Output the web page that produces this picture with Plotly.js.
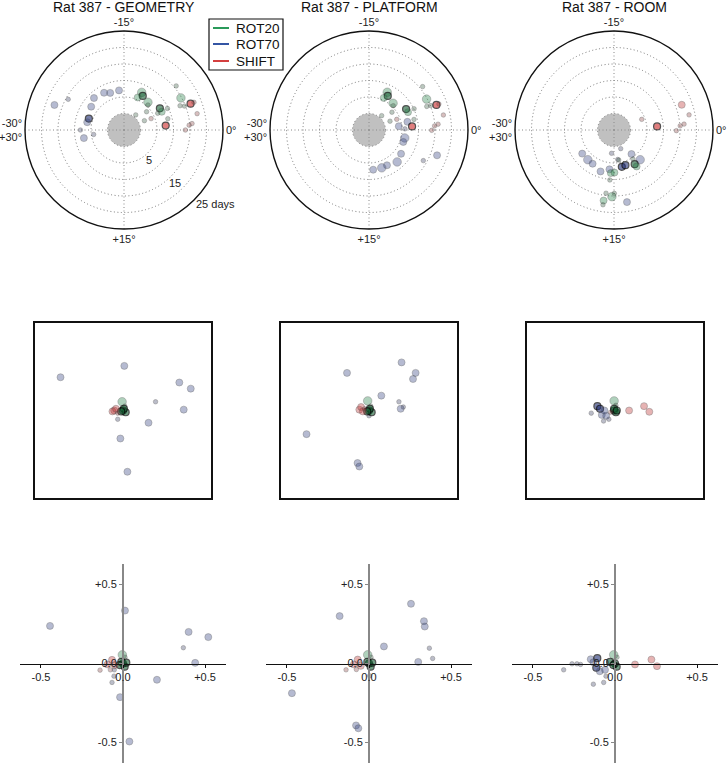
<!DOCTYPE html>
<html><head><meta charset="utf-8">
<script src="https://cdn.plot.ly/plotly-3.0.1.min.js"></script>
<style>html,body{margin:0;padding:0;background:#fff}</style>
</head><body><div id="chart" style="width:728px;height:763px"></div>
<script>
// ---------- DATA ----------
const panelNames = ['GEOMETRY', 'PLATFORM', 'ROOM'];
const seriesNames = ['ROT20', 'ROT70', 'SHIFT'];
const angleTickText = ['0°', '+15°', '-30°<br>+30°', '-15°'];   // at 0, 90, 180, 270 (clockwise)
const radialTickText = ['5', '15', '25 days'];
const axisTickText = ['-0.5', '0.0', '+0.5'];

// Polar: [phase offset (deg), days, weight(1-3), significant(0/1)]
const geoRot20Polar = [[-10.8,7.6,3,0],[-10.2,6.8,2,1],[-11.2,5.7,2,0],[-8.2,6.1,3,0],[-5.2,7.7,2,1],[-4.3,7.7,2,0],[-4.9,14.8,3,0],[-3.9,13.5,1,0],[-3.6,14.7,1,0],[-6.7,15.7,1,0],[-4.4,9.7,1,0],[-4.4,6.4,1,0],[-6.5,3.8,1,0],[-4.1,1.8,1,0],[-8.7,0.8,1,0],[-2.4,8.7,1,0],[-7.7,5.5,1,0]];
const geoRot70Polar = [[-26.7,17.4,2,0],[-25.2,14.3,1,0],[-22.2,8.3,2,0],[-19.7,7.8,2,0],[-18.4,7.0,2,0],[-16.2,7.1,2,0],[-24.1,7.2,2,0],[-27.0,6.2,2,1],[-28.0,6.4,2,0],[-30,8.2,1,0],[28.1,7.4,2,0],[28.6,4.3,1,0]];
const geoShiftPolar = [[-1.0,7.7,2,1],[-3.6,16.7,2,1],[-3.6,17.8,1,0],[-2.1,17.7,1,0],[-0.9,15.7,1,0],[-0.7,14.8,1,0],[0.0,13.6,1,0],[-3.8,3.9,1,0]];

const platRot20Polar = [[-10.7,7.7,3,0],[-10.2,6.8,2,1],[-10.9,5.7,2,0],[-8.0,5.9,3,0],[-4.9,7.9,2,1],[-4.1,8.0,2,0],[-4.7,14.8,3,0],[-3.7,13.9,1,0],[-3.6,15.1,1,0],[-6.5,15.9,1,0],[-4.2,10.1,1,0],[-6.3,3.8,1,0],[-3.8,1.9,1,0],[-8.1,0.8,1,0],[-2.2,9.0,1,0],[-7.5,5.4,1,0]];
const platRot70Polar = [[2.1,6.1,3,0],[3.2,6.0,2,0],[-2.0,6.9,2,0],[-1.2,4.1,2,0],[-0.3,5.9,1,0],[6.1,7.1,2,0],[8.1,7.9,3,0],[10.5,7.0,2,0],[11.9,7.1,3,0],[14.0,7.1,2,0],[3.4,17.0,2,0],[4.9,13.9,1,0]];
const platShiftPolar = [[-0.8,8.1,2,1],[-3.4,16.8,2,1],[-3.4,17.6,1,0],[-1.9,18.0,1,0],[-0.8,16.0,1,0],[-0.6,14.9,1,0],[0.05,14.0,1,0],[-3.5,4.0,1,0]];

const roomRot20Polar = [[9.8,7.1,2,1],[9.7,8.0,2,0],[15.7,8.1,2,0],[14.9,7.9,2,0],[15.3,15.2,3,0],[14.95,14.2,1,0],[16.2,14.3,1,0],[16.4,16.6,2,0],[16.4,17.9,1,0],[9.5,5.5,1,0],[13.5,4.2,1,0],[15.8,10.2,1,0]];
const roomRot70Polar = [[23.9,7.0,2,0],[21.9,7.0,3,0],[20.4,7.1,2,0],[18.0,8.2,2,0],[16.1,7.0,2,0],[13.0,6.4,2,1],[12.0,6.2,2,1],[9.0,4.0,2,0],[8.1,7.0,3,0],[13.3,17.2,2,0],[16.0,2.1,1,0],[11.7,1.0,1,0],[13.8,4.0,1,0]];
const roomShiftPolar = [[-3.4,16.9,2,0],[-1.9,18.2,1,0],[-0.8,16.3,1,0],[-0.6,15.1,1,0],[0.1,13.9,1,0],[-0.8,8.1,2,1],[-3.5,4.0,1,0]];

// Middle row (normalised map): [x, y, weight, significant]
const geoRot20Map = [[-0.01,0.10,3,0],[0.02,0.05,1,0],[0.0,0.0,2,1],[0.03,-0.02,2,1],[0.01,0.02,2,1],[-0.02,-0.01,2,1]];
const geoRot70Map = [[-0.71,0.38,2,0],[0.015,0.51,2,0],[0.64,0.32,2,0],[0.77,0.25,2,0],[0.37,0.10,1,0],[0.69,0.01,2,0],[0.29,-0.14,2,0],[-0.03,-0.32,2,0],[0.05,-0.70,2,0],[-0.06,-0.10,1,0]];
const geoShiftMap = [[-0.10,0.0,2,0],[-0.12,-0.01,2,0],[-0.08,0.02,2,0],[-0.06,-0.03,1,0]];

const platRot20Map = [[-0.015,0.11,3,0],[0.02,0.05,1,0],[0.0,0.0,2,1],[0.03,-0.02,2,1],[0.01,0.02,2,1],[-0.02,-0.01,2,1]];
const platRot70Map = [[-0.25,0.43,2,0],[0.37,0.55,2,0],[0.53,0.43,2,0],[0.50,0.36,2,0],[0.14,0.17,2,0],[0.34,0.10,1,0],[0.36,0.02,2,0],[0.39,0.04,1,0],[-0.71,-0.27,2,0],[-0.13,-0.60,2,0],[-0.11,-0.64,2,0],[0.0,-0.06,1,0]];
const platShiftMap = [[-0.11,0.01,2,0],[-0.09,0.04,2,0],[-0.07,-0.01,2,0],[-0.05,0.02,1,0]];

const roomRot20Map = [[-0.01,0.11,3,0],[0.01,0.06,1,0],[-0.01,0.0,2,1],[0.01,-0.02,2,1],[-0.01,0.02,2,1],[0.02,0.0,2,1]];
const roomRot70Map = [[-0.20,0.05,2,1],[-0.17,0.02,2,1],[-0.15,-0.05,2,0],[-0.13,-0.12,1,0],[-0.07,-0.10,1,0],[-0.27,-0.03,1,0],[-0.10,-0.06,2,0],[-0.12,0.0,2,0]];
const roomShiftMap = [[0.16,0.0,2,0],[0.33,0.05,2,0],[0.39,-0.015,2,0],[-0.05,-0.02,1,0]];

// Bottom row (vector components): [x, y, weight, significant]
const geoRot20Vec = [[-0.004,0.055,3,0],[0.012,0.04,1,0],[0.0,0.0,2,1],[0.01,-0.02,2,1],[-0.01,0.01,2,1],[0.02,0.005,2,1],[-0.02,-0.01,2,1]];
const geoRot70Vec = [[-0.445,0.238,2,0],[0.012,0.335,2,0],[0.40,0.20,2,0],[0.52,0.167,2,0],[0.368,0.10,1,0],[0.44,0.004,2,0],[0.207,-0.103,2,0],[-0.018,-0.213,2,0],[0.039,-0.494,2,0],[-0.055,-0.08,1,0],[-0.067,-0.12,1,0],[-0.053,-0.04,1,0]];
const geoShiftVec = [[-0.067,0.023,2,0],[-0.095,-0.006,2,0],[-0.14,-0.042,1,0],[-0.077,-0.04,1,0],[-0.05,-0.01,2,0]];

const platRot20Vec = [[-0.008,0.055,3,0],[0.012,0.04,1,0],[0.0,0.0,2,1],[0.01,-0.02,2,1],[-0.01,0.01,2,1],[0.02,0.005,2,1]];
const platRot70Vec = [[-0.179,0.30,2,0],[0.256,0.378,2,0],[0.335,0.268,2,0],[0.34,0.234,2,0],[0.091,0.108,2,0],[0.368,0.097,1,0],[0.388,0.032,1,0],[0.30,0.01,2,0],[-0.47,-0.188,2,0],[-0.079,-0.392,2,0],[-0.065,-0.41,2,0],[0.004,-0.078,1,0]];
const platShiftVec = [[-0.069,0.025,2,0],[-0.093,-0.006,2,0],[-0.14,-0.04,1,0],[-0.077,-0.038,1,0],[-0.05,-0.015,2,0]];

const roomRot20Vec = [[-0.008,0.055,3,0],[0.012,0.04,1,0],[-0.03,0.01,2,1],[0.0,0.0,2,1],[0.01,-0.02,2,1],[-0.01,-0.01,2,1]];
const roomRot70Vec = [[-0.148,0.027,2,0],[-0.108,0.034,2,1],[-0.132,0.008,2,0],[-0.114,-0.027,2,1],[-0.093,-0.049,2,0],[-0.061,-0.04,2,0],[-0.055,-0.08,1,0],[-0.132,-0.131,1,0],[-0.069,-0.12,1,0],[-0.313,-0.04,1,0],[-0.262,-0.002,1,0],[-0.232,-0.002,1,0],[-0.21,-0.006,1,0]];
const roomShiftVec = [[0.122,-0.006,2,0],[0.222,0.025,2,0],[0.256,-0.017,2,0]];

// ---------- STYLE / LAYOUT ----------
const W = 728, H = 763;
const FONT = 'Liberation Sans, Arial, Helvetica, sans-serif';
const LEGEND_COLORS = ['#2a9a5a', '#3455a4', '#d43f3f'];
const FILL = ['rgba(30,125,65,0.5)', 'rgba(45,61,125,0.5)', 'rgba(185,40,40,0.5)'];
const FILL_SMALL = ['rgba(40,80,50,0.45)', 'rgba(40,45,85,0.45)', 'rgba(130,50,50,0.45)'];
const FILL_SIG = ['rgba(20,95,50,0.85)', 'rgba(30,45,115,0.85)', 'rgba(205,40,40,0.85)'];
const SIZE = {1: 4.5, 2: 7, 3: 8.5};
const GRID_DASH = '1px,2.5px';

const polarPts = [
  [geoRot20Polar, geoRot70Polar, geoShiftPolar],
  [platRot20Polar, platRot70Polar, platShiftPolar],
  [roomRot20Polar, roomRot70Polar, roomShiftPolar]];
const mapPts = [
  [geoRot20Map, geoRot70Map, geoShiftMap],
  [platRot20Map, platRot70Map, platShiftMap],
  [roomRot20Map, roomRot70Map, roomShiftMap]];
const vecPts = [
  [geoRot20Vec, geoRot70Vec, geoShiftVec],
  [platRot20Vec, platRot70Vec, platShiftVec],
  [roomRot20Vec, roomRot70Vec, roomShiftVec]];

function marker(pts, si) {
  return {
    size: pts.map(p => SIZE[p[2]]),
    color: pts.map(p => p[3] ? FILL_SIG[si] : (p[2] === 1 ? FILL_SMALL[si] : FILL[si])),
    line: {
      color: pts.map(p => p[3] ? 'rgba(0,0,0,0.95)' : 'rgba(70,70,70,0.55)'),
      width: pts.map(p => p[3] ? 1.2 : 0.8)
    }
  };
}

const polarCX = [124, 369, 614], polarCY = 130, polarR = 99;
const mapX = [[35, 211], [281, 457], [527, 703]], mapY = [323, 498];
const vecX = [[20, 226], [266, 472], [512, 718]], vecY = [564, 763];
const vecXRange = [-0.628, 0.628], vecYRange = [-0.63, 0.63];

const traces = [];
const layout = {
  width: W, height: H, margin: {l: 0, r: 0, t: 0, b: 0},
  paper_bgcolor: 'white', plot_bgcolor: 'white', showlegend: false,
  font: {family: FONT, color: '#222'},
  annotations: [], shapes: []
};
const order = [1, 0, 2]; // draw ROT70, ROT20, SHIFT

for (let k = 0; k < 3; k++) {
  const pid = k === 0 ? 'polar' : 'polar' + (k + 1);
  const cx = polarCX[k];
  layout[pid] = {
    domain: {x: [(cx - polarR) / W, (cx + polarR) / W], y: [1 - (polarCY + polarR) / H, 1 - (polarCY - polarR) / H]},
    bgcolor: 'white',
    angularaxis: {
      rotation: 0, direction: 'clockwise', tickmode: 'array', tickvals: [0, 90, 180, 270], ticktext: angleTickText,
      showgrid: true, gridcolor: '#888', griddash: GRID_DASH, gridwidth: 1,
      showline: true, linecolor: '#111', linewidth: 1.4, ticks: '', tickfont: {size: 11, color: '#222'}
    },
    radialaxis: {
      range: [-5, 25], tickmode: 'array', tickvals: [0, 5, 10, 15, 20], showticklabels: false, ticks: '',
      showline: false, showgrid: true, gridcolor: '#777', griddash: GRID_DASH, gridwidth: 1
    }
  };
  // grey centre disc (day 0)
  traces.push({type: 'barpolar', subplot: pid, r: [5], base: [-5], theta: [0], width: [360],
    marker: {color: 'rgba(140,140,140,0.55)', line: {width: 0}}, hoverinfo: 'skip'});
  for (const si of order) {
    const pts = polarPts[k][si];
    traces.push({type: 'scatterpolar', subplot: pid, mode: 'markers', name: seriesNames[si],
      theta: pts.map(p => p[0] * 6), r: pts.map(p => p[1]), marker: marker(pts, si), cliponaxis: false});
  }
  // title
  layout.annotations.push({text: 'Rat 387 - ' + panelNames[k], xref: 'paper', yref: 'paper',
    x: cx / W, y: 1 - 7 / H, xanchor: 'center', yanchor: 'middle', showarrow: false,
    font: {size: 14, color: '#111', family: FONT}});

  // middle row
  const mx = 'x' + (k + 1), my = 'y' + (k + 1);
  const mxName = k === 0 ? 'xaxis' : 'xaxis' + (k + 1);
  const myName = k === 0 ? 'yaxis' : 'yaxis' + (k + 1);
  const sq = {range: [-1, 1], showline: true, mirror: true, linecolor: '#111', linewidth: 2,
    showticklabels: false, ticks: '', zeroline: false, showgrid: false, fixedrange: true};
  layout[mxName] = Object.assign({}, sq, {domain: [mapX[k][0] / W, mapX[k][1] / W], anchor: my});
  layout[myName] = Object.assign({}, sq, {domain: [1 - mapY[1] / H, 1 - mapY[0] / H], anchor: mx});
  for (const si of order) {
    const pts = mapPts[k][si];
    traces.push({type: 'scatter', mode: 'markers', xaxis: mx, yaxis: my, name: seriesNames[si],
      x: pts.map(p => p[0]), y: pts.map(p => p[1]), marker: marker(pts, si)});
  }

  // bottom row
  const bx = 'x' + (k + 4), by = 'y' + (k + 4);
  const xd = [vecX[k][0] / W, vecX[k][1] / W];
  const yd = [1 - vecY[1] / H, 1 - vecY[0] / H];
  const xZero = xd[0] + (0 - vecXRange[0]) / (vecXRange[1] - vecXRange[0]) * (xd[1] - xd[0]);
  const yZero = yd[0] + (0 - vecYRange[0]) / (vecYRange[1] - vecYRange[0]) * (yd[1] - yd[0]);
  layout['xaxis' + (k + 4)] = {domain: xd, range: vecXRange, anchor: 'free', position: yZero,
    showline: true, linecolor: '#111', linewidth: 1.4, zeroline: false, showgrid: false,
    tickmode: 'array', tickvals: [-0.5, 0, 0.5], ticktext: axisTickText, ticks: 'outside', ticklen: 3,
    tickcolor: '#111', tickfont: {size: 11, color: '#222'}, fixedrange: true};
  layout['yaxis' + (k + 4)] = {domain: yd, range: vecYRange, anchor: 'free', position: xZero,
    showline: true, linecolor: '#888', linewidth: 2, zeroline: false, showgrid: false,
    tickmode: 'array', tickvals: [-0.5, 0, 0.5], ticktext: axisTickText, ticks: 'outside', ticklen: 3,
    tickcolor: '#888', tickfont: {size: 11, color: '#222'}, fixedrange: true};
  for (const si of order) {
    const pts = vecPts[k][si];
    traces.push({type: 'scatter', mode: 'markers', xaxis: bx, yaxis: by, name: seriesNames[si],
      x: pts.map(p => p[0]), y: pts.map(p => p[1]), marker: marker(pts, si), cliponaxis: false});
  }
}

// radial labels on the first polar panel
const radLabelPos = [[149, 160], [175, 183], [215, 204]];
radialTickText.forEach((t, i) => {
  layout.annotations.push({text: t, xref: 'paper', yref: 'paper', x: radLabelPos[i][0] / W, y: 1 - radLabelPos[i][1] / H,
    xanchor: 'center', yanchor: 'middle', showarrow: false, font: {size: 11, color: '#222', family: FONT}});
});

// legend (drawn manually)
const lg = {x0: 209, x1: 283, y0: 19, y1: 70, rows: [28, 44, 61]};
layout.shapes.push({type: 'rect', xref: 'paper', yref: 'paper', x0: lg.x0 / W, x1: lg.x1 / W,
  y0: 1 - lg.y1 / H, y1: 1 - lg.y0 / H, line: {color: '#111', width: 1.2}, fillcolor: 'white', layer: 'above'});
seriesNames.forEach((n, i) => {
  const yy = 1 - lg.rows[i] / H;
  layout.shapes.push({type: 'line', xref: 'paper', yref: 'paper', x0: 213 / W, x1: 229 / W, y0: yy, y1: yy,
    line: {color: LEGEND_COLORS[i], width: 2}, layer: 'above'});
  layout.annotations.push({text: n, xref: 'paper', yref: 'paper', x: 234 / W, y: yy, xanchor: 'left', yanchor: 'middle',
    showarrow: false, font: {size: 13.5, color: '#111', family: FONT}});
});

Plotly.newPlot('chart', traces, layout, {staticPlot: true, displayModeBar: false});
</script>
</body></html>
